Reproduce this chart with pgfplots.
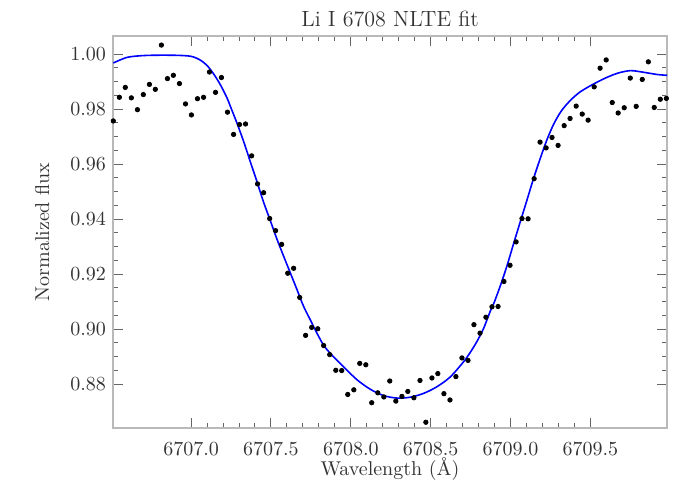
\documentclass[border=0pt]{standalone}
\usepackage{fontspec}
\usepackage{pgfplots}
\pgfplotsset{compat=1.18}

\begin{document}
\begin{tikzpicture}
\useasboundingbox (-56.5pt,-36pt) rectangle (293.5pt,214pt);
\begin{axis}[
  at={(0,0)}, anchor=south west,
  scale only axis,
  width=277pt, height=196pt,
  xmin=6706.511, xmax=6709.98,
  ymin=0.864, ymax=1.0066,
  xtick={6707.0,6707.5,6708.0,6708.5,6709.0,6709.5},
  minor x tick num=4,
  ytick={0.88,0.90,0.92,0.94,0.96,0.98,1.00},
  minor y tick num=3,
  scaled x ticks=false, scaled y ticks=false,
  tick align=inside,
  major tick length=5pt, minor tick length=2.5pt,
  axis line style={gray!55, line width=0.8pt},
  tick style={black!60, line width=0.5pt},
  xticklabel style={/pgf/number format/fixed, /pgf/number format/fixed zerofill,
    /pgf/number format/precision=1, /pgf/number format/1000 sep={},
    anchor=base, yshift=-13.8pt, text=black!80},
  yticklabel style={/pgf/number format/fixed, /pgf/number format/fixed zerofill,
    /pgf/number format/precision=2, text=black!80},
  every axis title shift=0pt,
  title={Li I 6708 NLTE fit},
  title style={at={(axis description cs:0.5,1)}, anchor=base, yshift=5pt,
    font=\fontsize{11}{13}\selectfont, text=black!80},
  xlabel={Wavelength (Å)},
  xlabel style={at={(axis description cs:0.5,0)}, anchor=base, yshift=-23.5pt, text=black!80},
  ylabel={Normalized flux},
  ylabel style={at={(axis description cs:-0.128,0.5)}, anchor=center, text=black!80},
  clip=false,
]
% observed spectrum
\addplot[only marks, mark=*, mark size=1.1pt, black] coordinates {
(6706.513,0.9757) (6706.551,0.9843) (6706.588,0.9879) (6706.626,0.9841)
(6706.664,0.9798) (6706.701,0.9853) (6706.739,0.9890) (6706.776,0.9872)
(6706.814,1.0033) (6706.852,0.9911) (6706.889,0.9923) (6706.927,0.9893)
(6706.965,0.9819) (6707.002,0.9779) (6707.040,0.9838) (6707.078,0.9843)
(6707.115,0.9935) (6707.153,0.9861) (6707.190,0.9915) (6707.228,0.9789)
(6707.266,0.9708) (6707.303,0.9744) (6707.341,0.9746) (6707.379,0.9630)
(6707.416,0.9528) (6707.454,0.9496) (6707.492,0.9402) (6707.529,0.9358)
(6707.567,0.9308) (6707.605,0.9203) (6707.642,0.9221) (6707.680,0.9115)
(6707.717,0.8977) (6707.755,0.9006) (6707.793,0.9001) (6707.830,0.8940)
(6707.868,0.8907) (6707.906,0.8850) (6707.943,0.8849) (6707.981,0.8762)
(6708.019,0.8779) (6708.056,0.8875) (6708.094,0.8870) (6708.131,0.8732)
(6708.169,0.8768) (6708.207,0.8753) (6708.244,0.8811) (6708.282,0.8738)
(6708.320,0.8755) (6708.357,0.8773) (6708.395,0.8750) (6708.433,0.8813)
(6708.470,0.8661) (6708.508,0.8822) (6708.545,0.8838) (6708.583,0.8765)
(6708.621,0.8742) (6708.658,0.8827) (6708.696,0.8895) (6708.734,0.8886)
(6708.771,0.9016) (6708.809,0.8985) (6708.846,0.9043) (6708.884,0.9081)
(6708.922,0.9082) (6708.959,0.9173) (6708.997,0.9232) (6709.035,0.9317)
(6709.072,0.9402) (6709.110,0.9401) (6709.148,0.9547) (6709.185,0.9680)
(6709.223,0.9659) (6709.260,0.9697) (6709.298,0.9668) (6709.336,0.9740)
(6709.373,0.9766) (6709.411,0.9811) (6709.449,0.9782) (6709.486,0.9760)
(6709.524,0.9881) (6709.561,0.9949) (6709.599,0.9979) (6709.637,0.9824)
(6709.674,0.9786) (6709.712,0.9805) (6709.750,0.9913) (6709.787,0.9810)
(6709.825,0.9908) (6709.863,0.9972) (6709.900,0.9806) (6709.938,0.9836)
(6709.976,0.9839)
};
% NLTE synthetic fit
\addplot[blue, line width=0.8pt, smooth] coordinates {
(6706.513,0.9968) (6706.597,0.9988) (6706.680,0.9994) (6706.764,0.9996)
(6706.889,0.9996) (6706.973,0.9994) (6707.014,0.9990) (6707.056,0.9979)
(6707.098,0.9960) (6707.140,0.9929) (6707.182,0.9890) (6707.224,0.9842)
(6707.244,0.9813) (6707.286,0.9751) (6707.328,0.9684) (6707.370,0.9610)
(6707.412,0.9537) (6707.453,0.9463) (6707.495,0.9396) (6707.537,0.9328)
(6707.578,0.9267) (6707.620,0.9206) (6707.662,0.9145) (6707.704,0.9083)
(6707.746,0.9034) (6707.788,0.8985) (6707.829,0.8942) (6707.871,0.8912)
(6707.954,0.8863) (6708.038,0.8816) (6708.122,0.8781) (6708.205,0.8758)
(6708.289,0.8749) (6708.372,0.8752) (6708.456,0.8766) (6708.539,0.8790)
(6708.623,0.8826) (6708.706,0.8881) (6708.748,0.8915) (6708.790,0.8955)
(6708.832,0.9003) (6708.874,0.9066) (6708.894,0.9091) (6708.936,0.9157)
(6708.978,0.9230) (6709.019,0.9310) (6709.061,0.9390) (6709.103,0.9469)
(6709.145,0.9549) (6709.187,0.9622) (6709.229,0.9690) (6709.270,0.9745)
(6709.312,0.9788) (6709.354,0.9819) (6709.395,0.9843) (6709.437,0.9863)
(6709.500,0.9885) (6709.583,0.9910) (6709.667,0.9930) (6709.751,0.9940)
(6709.834,0.9934) (6709.918,0.9926) (6709.981,0.9923)
};
\end{axis}
\end{tikzpicture}
\end{document}
